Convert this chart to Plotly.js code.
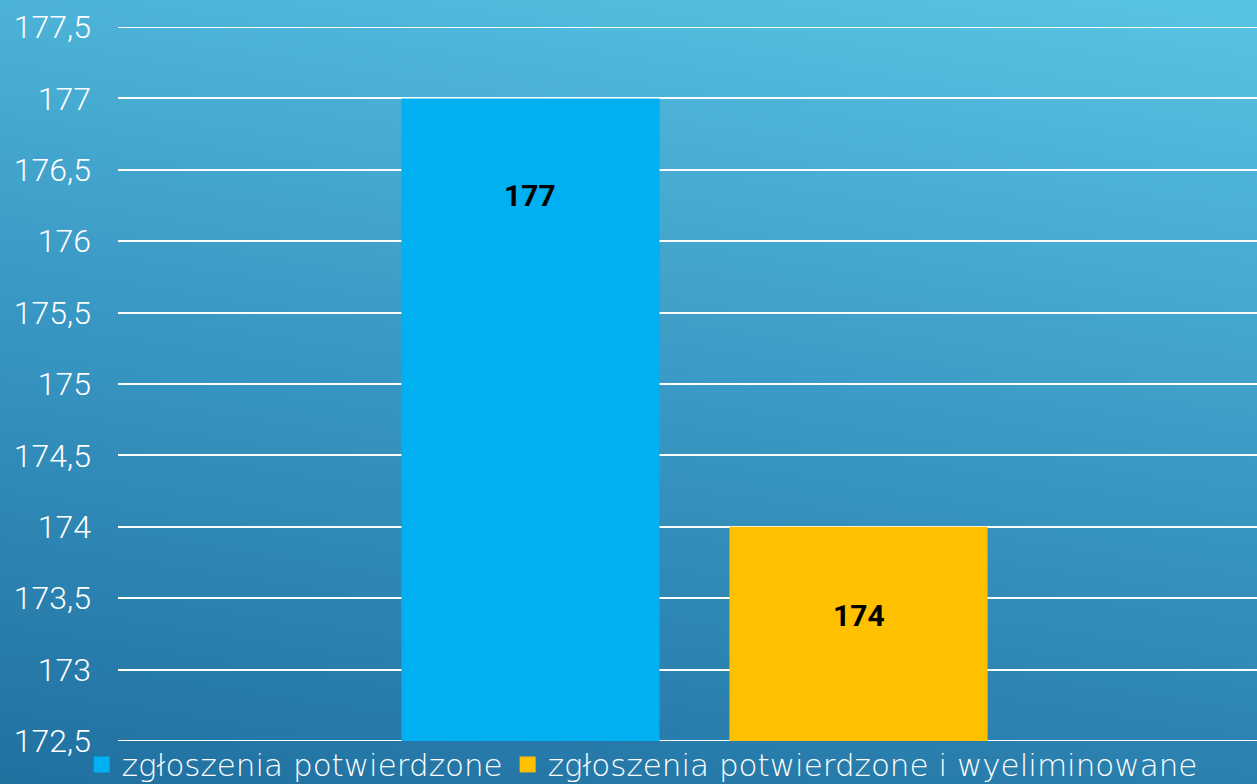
<!DOCTYPE html>
<html>
<head>
<meta charset="utf-8">
<script src="https://cdn.plot.ly/plotly-3.0.1.min.js"></script>
<style>
  html, body { margin: 0; padding: 0; width: 1257px; height: 784px; overflow: hidden; }
  body { background: linear-gradient(9deg, #2070A0 0%, #3A98C4 50%, #58C4E4 100%); }
  #chart { width: 1257px; height: 784px; }
</style>
</head>
<body>
<div id="chart"></div>
<script>
const categories = ['Zgłoszenia'];
const seriesNames = ['zgłoszenia potwierdzone', 'zgłoszenia potwierdzone i wyeliminowane'];
const seriesValues = [177, 174];
const seriesColors = ['#00B0F0', '#FFC000'];
const yTickValues = [172.5, 173, 173.5, 174, 174.5, 175, 175.5, 176, 176.5, 177, 177.5];

const W = 1257, H = 784;
const margin = { l: 118, r: 0, t: 27, b: 43, autoexpand: false };
const bargap = 0.424, bargroupgap = 0.213;
const plotW = W - margin.l - margin.r;
const slotPx = plotW * (1 - bargap) / seriesValues.length;
const labelDrop = [-97, -89];

const barTraces = seriesValues.map((v, i) => ({
  type: 'bar',
  x: categories,
  y: [v],
  name: seriesNames[i],
  marker: { color: seriesColors[i] },
  showlegend: false,
  hoverinfo: 'name+y'
}));

// legend entries (larger square swatches, as in the original)
const legendTraces = seriesNames.map((n, i) => ({
  type: 'scatter',
  mode: 'markers',
  x: [null],
  y: [null],
  name: n,
  marker: { color: seriesColors[i], symbol: 'square', size: 18 },
  showlegend: true,
  hoverinfo: 'skip'
}));

const annotations = seriesValues.map((v, i) => ({
  x: categories[0],
  y: v,
  xref: 'x',
  yref: 'y',
  text: String(v),
  showarrow: false,
  xshift: (i - (seriesValues.length - 1) / 2) * slotPx,
  yshift: labelDrop[i],
  font: { family: 'Roboto, sans-serif', size: 30, color: '#000000', weight: 700 }
}));

// the edge gridlines (172.5 and 177.5) which Plotly omits at the range ends
const yMin = yTickValues[0], yMax = yTickValues[yTickValues.length - 1];
const shapes = [yMin, yMax].map(v => ({
  type: 'line', xref: 'paper', yref: 'y', x0: 0, x1: 1, y0: v, y1: v,
  line: { color: '#FFFFFF', width: 2 }, layer: 'below'
}));

const layout = {
  width: W,
  height: H,
  margin: margin,
  paper_bgcolor: 'rgba(0,0,0,0)',
  plot_bgcolor: 'rgba(0,0,0,0)',
  separators: ', ',
  barmode: 'group',
  bargap: bargap,
  bargroupgap: bargroupgap,
  showlegend: true,
  xaxis: {
    type: 'category',
    range: [-0.5 - 7 / plotW, 0.5 - 7 / plotW],
    showticklabels: false,
    showgrid: false,
    zeroline: false,
    showline: false,
    ticks: ''
  },
  yaxis: {
    range: [yMin, yMax],
    tickmode: 'array',
    tickvals: yTickValues,
    showgrid: true,
    gridcolor: '#FFFFFF',
    gridwidth: 2,
    zeroline: false,
    showline: false,
    ticks: '',
    ticklabelstandoff: 26,
    tickfont: { family: 'Roboto, sans-serif', size: 32, color: '#FFFFFF', weight: 300 }
  },
  legend: {
    orientation: 'h',
    xref: 'container',
    x: 0.065,
    xanchor: 'left',
    yref: 'container',
    y: 0.059,
    yanchor: 'top',
    bgcolor: 'rgba(0,0,0,0)',
    font: { family: '"DejaVu Sans", sans-serif', size: 31, color: '#FFFFFF', weight: 200 },
    itemsizing: 'trace',
    itemclick: false,
    itemdoubleclick: false,
    tracegroupgap: 0
  },
  shapes: shapes,
  annotations: annotations
};

Plotly.newPlot('chart', barTraces.concat(legendTraces), layout, { displayModeBar: false, staticPlot: true });
</script>
</body>
</html>
